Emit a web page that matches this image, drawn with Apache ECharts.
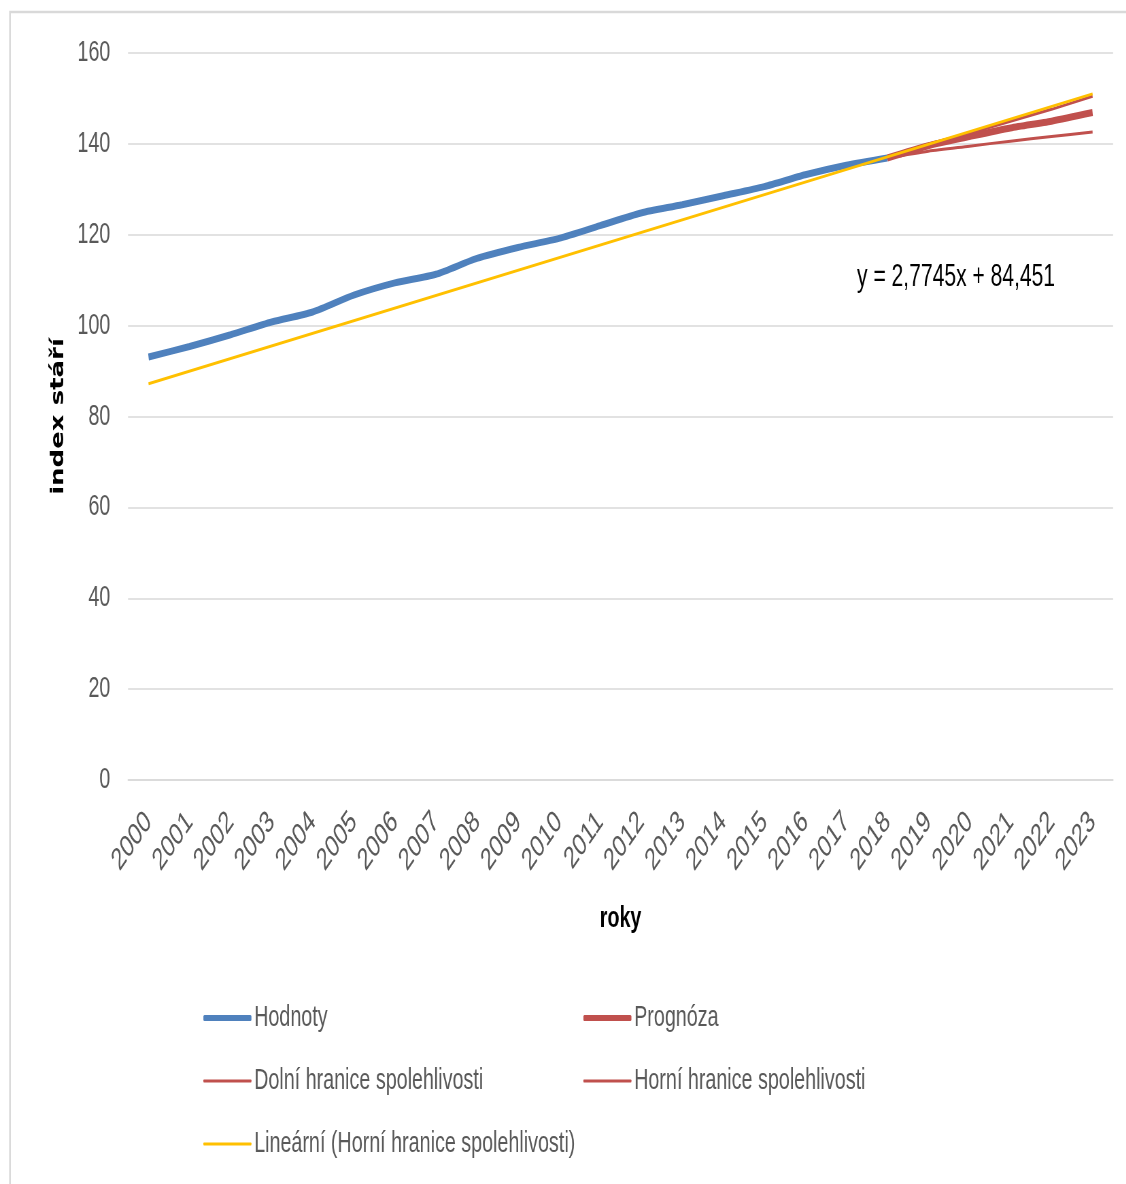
<!DOCTYPE html>
<html><head><meta charset="utf-8">
<script src="https://cdn.jsdelivr.net/npm/echarts@6/dist/echarts.min.js"></script>
<style>html,body{margin:0;padding:0;background:#fff;overflow:hidden;width:1126px;height:1184px}
#c{width:1656px;height:1184px;transform:scaleX(0.68);transform-origin:0 0}</style>
</head><body><div id="c"></div>
<script>
const years = ['2000','2001','2002','2003','2004','2005','2006','2007','2008','2009','2010','2011','2012','2013','2014','2015','2016','2017','2018','2019','2020','2021','2022','2023'];
const hodnoty = [93.1,95.4,98.0,100.8,103.0,106.7,109.4,111.3,114.8,117.2,119.2,122.0,124.8,126.6,128.6,130.6,133.2,135.3,136.9,null,null,null,null,null];
const prognoza = [null,null,null,null,null,null,null,null,null,null,null,null,null,null,null,null,null,null,136.9,139.6,141.6,143.5,145.0,146.9];
const dolni = [null,null,null,null,null,null,null,null,null,null,null,null,null,null,null,null,null,null,136.9,138.4,139.5,140.6,141.6,142.6];
const horni = [null,null,null,null,null,null,null,null,null,null,null,null,null,null,null,null,null,null,136.9,139.9,142.3,145.0,147.6,150.5];
const trend = [87.2,null,null,null,null,null,null,null,null,null,null,null,null,null,null,null,null,null,null,null,null,null,null,151.0];
const yTicks = {min:0, max:160, interval:20};
const equation = 'y = 2,7745x + 84,451';

const S = 0.68; // horizontal squeeze of the whole picture
const X = v => v / S;
const F = '"Liberation Sans",Arial,sans-serif';
const chart = echarts.init(document.getElementById('c'));
const legendBase = (name, left, cy, h) => ({
  data:[name], left:X(left), top:cy - 15, itemWidth:X(48), itemHeight:h, icon:'roundRect', itemGap:0,
  textStyle:{fontFamily:F, fontSize:29, lineHeight:30, color:'#595959', padding:[0,0,0,-1]}, selectedMode:false
});
chart.setOption({
  animation:false,
  graphic:[
    {type:'rect', shape:{x:X(10),y:12,width:X(1140),height:1190}, style:{fill:'none', stroke:'#d9d9d9', lineWidth:2.5}},
    {type:'text', x:X(857), y:277, style:{text:equation, fontFamily:F, fontSize:31, fill:'#000', verticalAlign:'middle', align:'left'}}
  ],
  grid:{left:X(128), right:X(13), top:53, bottom:404},
  legend:[
    legendBase('Hodnoty',200,1013,6),
    legendBase('Prognóza',580,1013,6),
    legendBase('Dolní hranice spolehlivosti',200,1076,3),
    legendBase('Horní hranice spolehlivosti',580,1076,3),
    legendBase('Lineární (Horní hranice spolehlivosti)',200,1139,3)
  ],
  xAxis:{type:'category', data:years, boundaryGap:true,
    name:'roky', nameLocation:'middle', nameGap:124,
    nameTextStyle:{fontFamily:F, fontSize:29, fontWeight:'bold', color:'#000'},
    axisLine:{lineStyle:{color:'#d9d9d9', width:1.5}}, axisTick:{show:false},
    axisLabel:{rotate:45, fontFamily:F, fontSize:31, color:'#595959', margin:37, interval:0}},
  yAxis:{type:'value', min:yTicks.min, max:yTicks.max, interval:yTicks.interval,
    name:'index stáří', nameLocation:'middle', nameGap:89,
    nameTextStyle:{fontFamily:'"DejaVu Sans",sans-serif', fontSize:26, fontWeight:'bold', color:'#000'},
    axisLine:{show:false}, axisTick:{show:false},
    splitLine:{lineStyle:{color:'#d9d9d9', width:1.5}},
    axisLabel:{fontFamily:F, fontSize:29, color:'#595959', margin:26}},
  series:[
    {name:'Hodnoty', type:'line', data:hodnoty, smooth:0.25, symbol:'none', color:'#4f81bd', lineStyle:{width:7, color:'#4f81bd'}, z:2},
    {name:'Prognóza', type:'line', data:prognoza, smooth:0.25, symbol:'none', color:'#c0504d', lineStyle:{width:7, color:'#c0504d'}, z:3},
    {name:'Dolní hranice spolehlivosti', type:'line', data:dolni, smooth:0.25, symbol:'none', color:'#c0504d', lineStyle:{width:3, color:'#c0504d'}, z:3},
    {name:'Horní hranice spolehlivosti', type:'line', data:horni, smooth:0.25, symbol:'none', color:'#c0504d', lineStyle:{width:3, color:'#c0504d'}, z:3},
    {name:'Lineární (Horní hranice spolehlivosti)', type:'line', data:trend, connectNulls:true, symbol:'none', color:'#ffc000', lineStyle:{width:3, color:'#ffc000'}, z:4}
  ]
});
</script></body></html>
